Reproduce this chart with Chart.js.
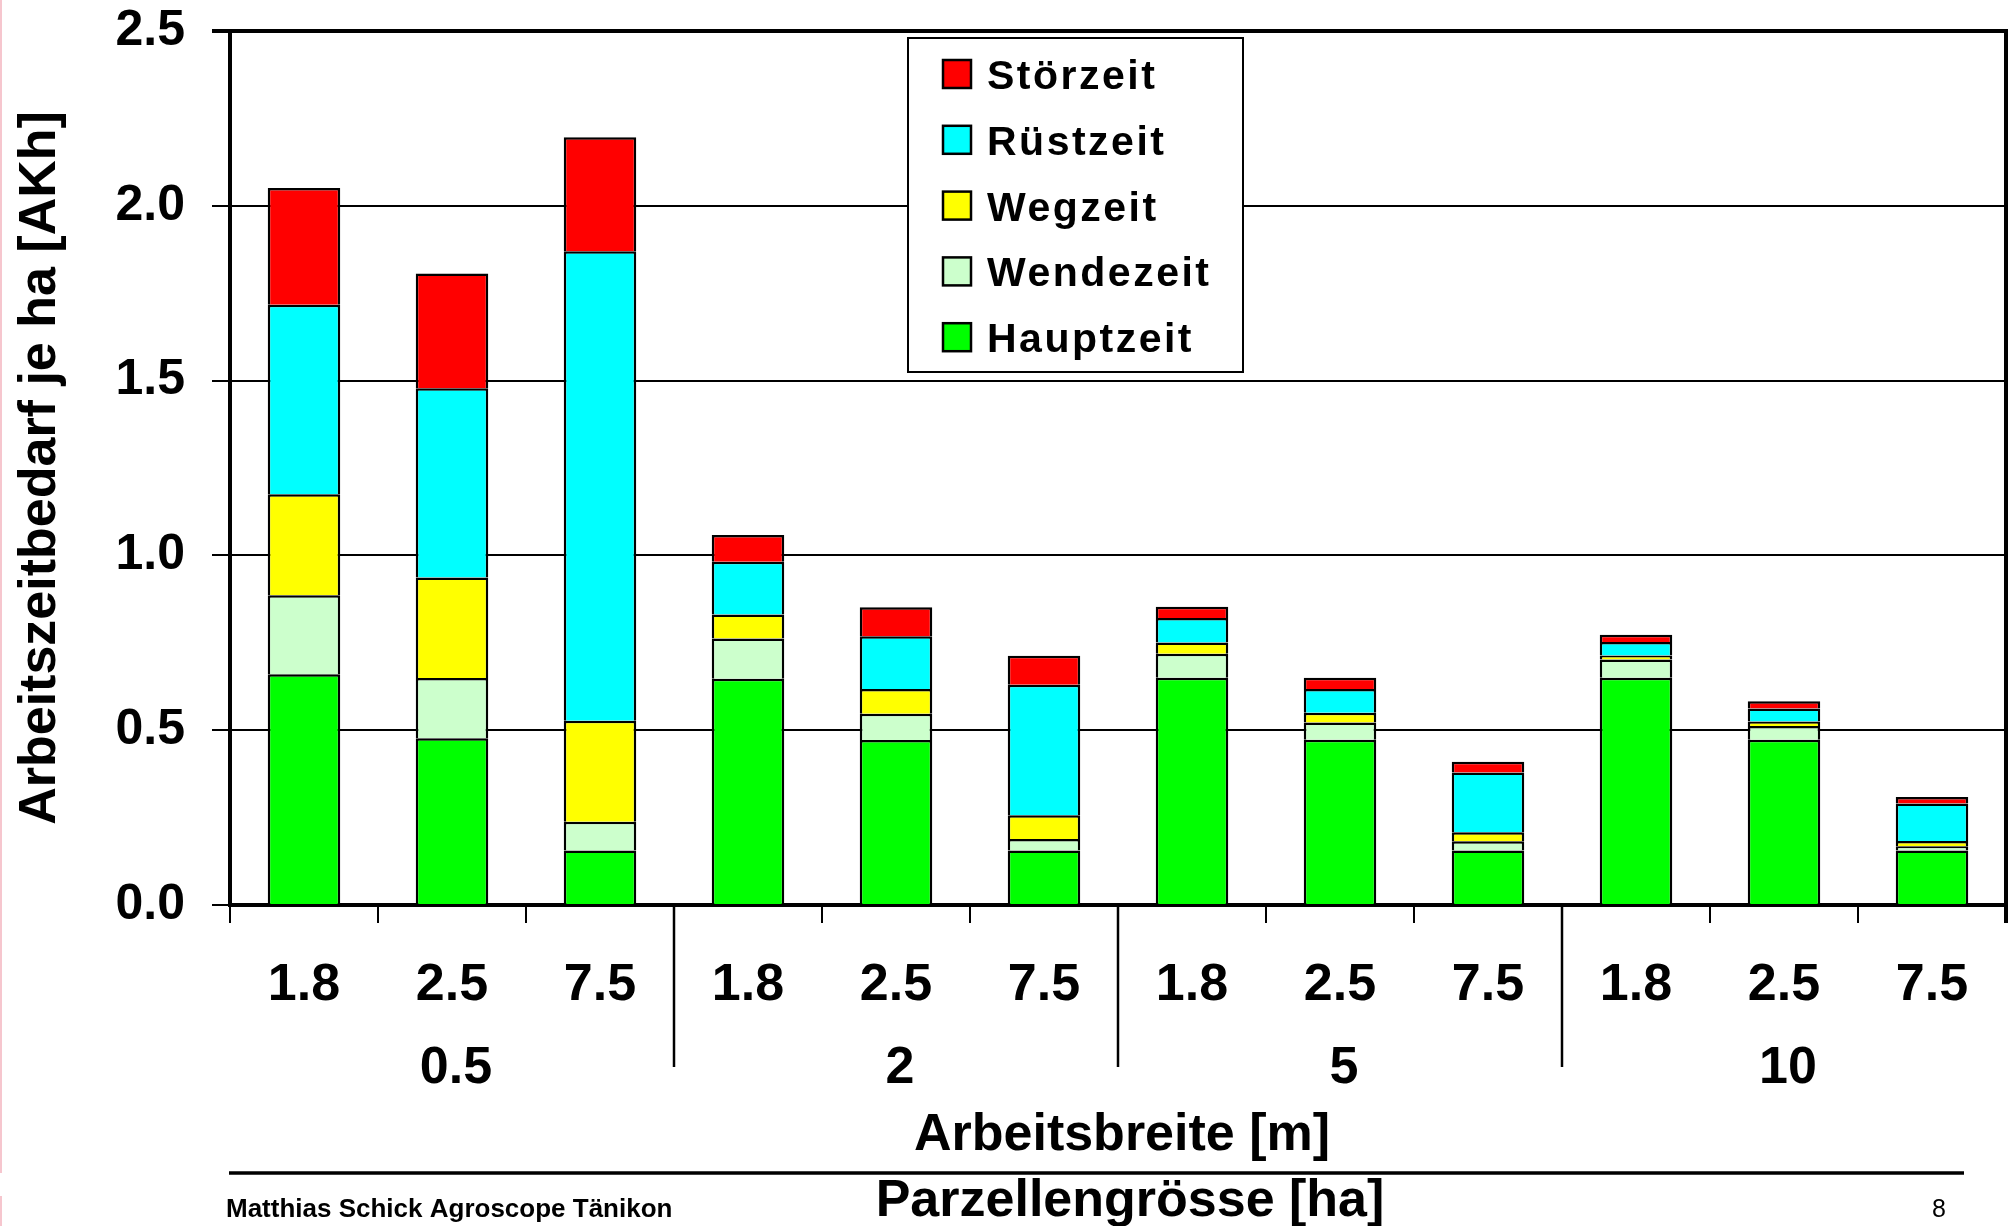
<!DOCTYPE html>
<html lang="de">
<head>
<meta charset="utf-8">
<title>Arbeitszeitbedarf je ha</title>
<script src="https://cdn.jsdelivr.net/npm/chart.js@4.4.1/dist/chart.umd.min.js"></script>
<style>
  html, body { margin: 0; padding: 0; background: #fff; }
  #wrap { width: 2015px; height: 1226px; position: relative; }
  canvas { display: block; }
</style>
</head>
<body>
<div id="wrap"><canvas id="c" width="2015" height="1226"></canvas></div>
<script>
// Arbeitsbreite [m] per bar, grouped by Parzellengrösse [ha]
const widths = ['1.8', '2.5', '7.5', '1.8', '2.5', '7.5', '1.8', '2.5', '7.5', '1.8', '2.5', '7.5'];
const plotSizes = ['0.5', '2', '5', '10'];
const yTicks = [0, 0.5, 1.0, 1.5, 2.0, 2.5];

// Arbeitszeitbedarf je ha [AKh], per time component
const hauptzeit = [0.660, 0.477, 0.156, 0.647, 0.472, 0.156, 0.650, 0.473, 0.156, 0.650, 0.473, 0.156];
const wendezeit = [0.226, 0.172, 0.082, 0.115, 0.075, 0.033, 0.069, 0.049, 0.026, 0.052, 0.039, 0.012];
const wegzeit   = [0.289, 0.288, 0.289, 0.069, 0.071, 0.068, 0.032, 0.028, 0.026, 0.012, 0.013, 0.015];
const ruestzeit = [0.542, 0.541, 1.343, 0.151, 0.151, 0.373, 0.070, 0.068, 0.171, 0.038, 0.037, 0.107];
const stoerzeit = [0.334, 0.328, 0.326, 0.076, 0.083, 0.083, 0.032, 0.032, 0.031, 0.021, 0.021, 0.019];

const FONT = '"Liberation Sans", Arial, Helvetica, sans-serif';

const datasets = [
  { label: 'Hauptzeit', data: hauptzeit, backgroundColor: '#00FF00' },
  { label: 'Wendezeit', data: wendezeit, backgroundColor: '#CCFFCC' },
  { label: 'Wegzeit',   data: wegzeit,   backgroundColor: '#FFFF00' },
  { label: 'Rüstzeit',  data: ruestzeit, backgroundColor: '#00FFFF' },
  { label: 'Störzeit',  data: stoerzeit, backgroundColor: '#FF0000' }
];

// Extra drawing: group labels, separators, axis titles, frame, legend box, footer
const decor = {
  id: 'decor',
  afterDraw(chart) {
    const ctx = chart.ctx;
    const a = chart.chartArea;
    const x = chart.scales.x;
    const n = widths.length;
    const perGroup = n / plotSizes.length;
    const half = (x.getPixelForValue(1) - x.getPixelForValue(0)) / 2;

    ctx.save();
    ctx.fillStyle = '#000';
    ctx.strokeStyle = '#000';

    // right frame line
    ctx.lineWidth = 4;
    ctx.beginPath();
    ctx.moveTo(a.right, a.top - 2);
    ctx.lineTo(a.right, a.bottom + 18);
    ctx.stroke();

    // group separators below the axis
    ctx.lineWidth = 2.5;
    for (let g = 1; g < plotSizes.length; g++) {
      const px = Math.round(x.getPixelForValue(g * perGroup) - half);
      ctx.beginPath();
      ctx.moveTo(px, a.bottom);
      ctx.lineTo(px, a.bottom + 162);
      ctx.stroke();
    }

    // group labels (Parzellengrösse)
    ctx.font = 'bold 52px ' + FONT;
    ctx.textAlign = 'center';
    ctx.textBaseline = 'alphabetic';
    plotSizes.forEach((lab, g) => {
      const cx = x.getPixelForValue(g * perGroup + (perGroup - 1) / 2);
      ctx.fillText(lab, cx + 4, a.bottom + 178);
    });

    // x axis title
    const midX = (a.left + a.right) / 2;
    ctx.fillText('Arbeitsbreite [m]', midX + 4, a.bottom + 245);

    // rule and second title
    ctx.lineWidth = 3.5;
    ctx.beginPath();
    ctx.moveTo(229, 1173);
    ctx.lineTo(1964, 1173);
    ctx.stroke();
    ctx.fillText('Parzellengrösse [ha]', midX + 12, 1216);

    // y axis title
    ctx.save();
    ctx.translate(55, (a.top + a.bottom) / 2);
    ctx.rotate(-Math.PI / 2);
    ctx.fillText('Arbeitszeitbedarf je ha [AKh]', 0, 0);
    ctx.restore();

    // footer
    ctx.textAlign = 'left';
    ctx.font = 'bold 26px ' + FONT;
    ctx.fillText('Matthias Schick Agroscope Tänikon', 226, 1217);
    ctx.font = '25px ' + FONT;
    ctx.fillText('8', 1932, 1217);

    // legend box
    const lx = 908, ly = 38, lw = 335, lh = 334;
    ctx.fillStyle = '#fff';
    ctx.fillRect(lx, ly, lw, lh);
    ctx.lineWidth = 2;
    ctx.strokeRect(lx, ly, lw, lh);
    ctx.font = 'bold 41px ' + FONT;
    ctx.textBaseline = 'alphabetic';
    if ('letterSpacing' in ctx) ctx.letterSpacing = '2.5px';
    const items = chart.data.datasets.slice().reverse();
    items.forEach((ds, i) => {
      const sy = 60 + i * 65.8;
      ctx.fillStyle = ds.backgroundColor;
      ctx.fillRect(943, sy, 28, 28);
      ctx.lineWidth = 2.5;
      ctx.strokeStyle = '#000';
      ctx.strokeRect(943, sy, 28, 28);
      ctx.fillStyle = '#000';
      ctx.fillText(ds.label, 987, sy + 29);
    });
    if ('letterSpacing' in ctx) ctx.letterSpacing = '0px';

    // slide edge
    ctx.fillStyle = '#F6C6CE';
    ctx.fillRect(0, 0, 2, 1173);
    ctx.fillRect(0, 1196, 2, 30);
    ctx.restore();
  }
};

new Chart(document.getElementById('c'), {
  type: 'bar',
  data: { labels: widths, datasets },
  options: {
    responsive: false,
    animation: false,
    devicePixelRatio: 1,
    layout: { padding: { top: 31, right: 9, left: 0, bottom: 0 } },
    plugins: { legend: { display: false }, tooltip: { enabled: false } },
    datasets: {
      bar: {
        categoryPercentage: 1,
        barPercentage: 0.49,
        borderWidth: 2.5,
        borderColor: '#000'
      }
    },
    scales: {
      x: {
        stacked: true,
        ticks: {
          color: '#000',
          font: { family: FONT, size: 52, weight: 'bold' },
          padding: 31,
          maxRotation: 0,
          minRotation: 0,
          autoSkip: false
        },
        grid: {
          offset: true,
          drawOnChartArea: false,
          color: '#000',
          lineWidth: 2,
          tickLength: 18
        },
        border: { color: '#000', width: 4 },
        afterFit(scale) {
          scale.height = 321;
          scale.paddingLeft = 0;
          scale.paddingRight = 0;
        }
      },
      y: {
        stacked: true,
        min: 0,
        max: 2.5,
        afterBuildTicks(scale) { scale.ticks = yTicks.map(v => ({ value: v })); },
        ticks: {
          color: '#000',
          font: { family: FONT, size: 50, weight: 'bold' },
          padding: 27,
          callback: v => Number(v).toFixed(1)
        },
        grid: {
          color: '#000',
          lineWidth: c => (c.tick && c.tick.value === 2.5 ? 4 : 2),
          tickLength: 18
        },
        border: { color: '#000', width: 4 },
        afterFit(scale) {
          scale.width = 230;
          scale.paddingTop = 0;
          scale.paddingBottom = 0;
        }
      }
    }
  },
  plugins: [decor]
});
</script>
</body>
</html>
